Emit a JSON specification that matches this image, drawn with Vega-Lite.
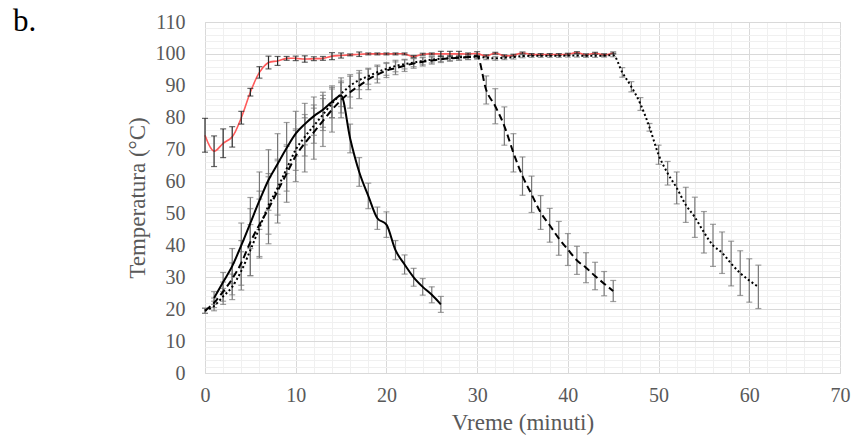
{
"$schema": "https://vega.github.io/schema/vega-lite/v6.json",
"width": 635, "height": 351,
"autosize": "none",
"padding": {"left": 205, "top": 22, "right": 17, "bottom": 70},
"background": "white",
"config": {"view": {"stroke": "#d9d9d9", "strokeWidth": 1}, "font": "Liberation Serif", "axis": {"titleColor": "#595959", "labelColor": "#595959", "labelFlush": false}},
"title": {"text": "b.", "anchor": "start", "frame": "group", "fontSize": 31, "font": "Liberation Serif", "fontWeight": "normal", "color": "black", "dx": -192, "offset": 0, "baseline": "alphabetic", "dy": 50},
"data": {"values": [
{"s":"red","x":0,"y":74.5,"e":5.3},{"s":"red","x":1,"y":69.5,"e":4.8},{"s":"red","x":2,"y":72,"e":4.5},{"s":"red","x":3,"y":74,"e":3.2},{"s":"red","x":4,"y":80,"e":2},{"s":"red","x":5,"y":88,"e":1.2},{"s":"red","x":6,"y":94.2,"e":1.8},{"s":"red","x":7,"y":97.3,"e":2},{"s":"red","x":8,"y":97.8,"e":1.4},{"s":"red","x":9,"y":98.6,"e":0.6},{"s":"red","x":10,"y":98.6,"e":0.7},{"s":"red","x":11,"y":98.4,"e":1},{"s":"red","x":12,"y":98.5,"e":0.6},{"s":"red","x":13,"y":98.6,"e":0.6},{"s":"red","x":14,"y":99.3,"e":1.1},{"s":"red","x":15,"y":99.5,"e":0.8},{"s":"red","x":16,"y":99.7,"e":0.3},{"s":"red","x":17,"y":99.9,"e":0.7},{"s":"red","x":18,"y":100,"e":0.3},{"s":"red","x":19,"y":100,"e":0.3},{"s":"red","x":20,"y":100,"e":0.3},{"s":"red","x":21,"y":100,"e":0.3},{"s":"red","x":22,"y":100,"e":0.3},{"s":"red","x":23,"y":99.2,"e":0.3},{"s":"red","x":24,"y":99.9,"e":0.3},{"s":"red","x":25,"y":100,"e":0.3},{"s":"red","x":26,"y":100,"e":0.8},{"s":"red","x":27,"y":100,"e":0.8},{"s":"red","x":28,"y":100,"e":0.8},{"s":"red","x":29,"y":100,"e":0.3},{"s":"red","x":30,"y":100.1,"e":0.6},{"s":"red","x":31,"y":99.4,"e":0.3},{"s":"red","x":32,"y":100.2,"e":0.3},{"s":"red","x":33,"y":99.4,"e":0.3},{"s":"red","x":34,"y":99.6,"e":0.3},{"s":"red","x":35,"y":100.3,"e":0.3},{"s":"red","x":36,"y":99.8,"e":0.3},{"s":"red","x":37,"y":99.8,"e":0.3},{"s":"red","x":38,"y":99.8,"e":0.3},{"s":"red","x":39,"y":99.8,"e":0.3},{"s":"red","x":40,"y":99.9,"e":0.3},{"s":"red","x":41,"y":100.4,"e":0.3},{"s":"red","x":42,"y":99.7,"e":0.3},{"s":"red","x":43,"y":100.2,"e":0.3},{"s":"red","x":44,"y":99.7,"e":0.3},{"s":"red","x":45,"y":100.3,"e":0.3},
{"s":"solid","x":1,"y":23.5,"e":2},{"s":"solid","x":2,"y":28.5,"e":3},{"s":"solid","x":3,"y":33.5,"e":5.5},{"s":"solid","x":4,"y":40,"e":7},{"s":"solid","x":5,"y":47,"e":8},{"s":"solid","x":6,"y":54,"e":9},{"s":"solid","x":7,"y":60.5,"e":9.5},{"s":"solid","x":8,"y":65.5,"e":9.5},{"s":"solid","x":9,"y":70.5,"e":8},{"s":"solid","x":10,"y":75,"e":7},{"s":"solid","x":11,"y":78,"e":6.5},{"s":"solid","x":12,"y":80.5,"e":6},{"s":"solid","x":13,"y":82.5,"e":5.5},{"s":"solid","x":14,"y":85,"e":5},{"s":"solid","x":15,"y":87,"e":5.5},{"s":"solid","x":16,"y":73.5,"e":4.5},{"s":"solid","x":17,"y":63,"e":4.5},{"s":"solid","x":18,"y":55.5,"e":4},{"s":"solid","x":19,"y":48.5,"e":3.5},{"s":"solid","x":20,"y":46.5,"e":4},{"s":"solid","x":21,"y":38.5,"e":3},{"s":"solid","x":22,"y":34,"e":3},{"s":"solid","x":23,"y":30,"e":2.8},{"s":"solid","x":24,"y":27,"e":2.6},{"s":"solid","x":25,"y":24.5,"e":2.5},{"s":"solid","x":26,"y":21.5,"e":2.5},
{"s":"dashed","x":0,"y":19.5,"e":0.8},{"s":"dashed","x":1,"y":22,"e":1.5},{"s":"dashed","x":2,"y":25.5,"e":3},{"s":"dashed","x":3,"y":29.5,"e":5},{"s":"dashed","x":4,"y":34.5,"e":7},{"s":"dashed","x":5,"y":41,"e":10.5},{"s":"dashed","x":6,"y":46.5,"e":10.5},{"s":"dashed","x":7,"y":51.5,"e":11},{"s":"dashed","x":8,"y":57,"e":10},{"s":"dashed","x":9,"y":62.5,"e":9},{"s":"dashed","x":10,"y":68,"e":8},{"s":"dashed","x":11,"y":72,"e":9},{"s":"dashed","x":12,"y":75.5,"e":8.5},{"s":"dashed","x":13,"y":79,"e":8},{"s":"dashed","x":14,"y":82.5,"e":7},{"s":"dashed","x":15,"y":85.5,"e":5.5},{"s":"dashed","x":16,"y":88,"e":5},{"s":"dashed","x":17,"y":90,"e":4},{"s":"dashed","x":18,"y":92,"e":3.2},{"s":"dashed","x":19,"y":93.5,"e":2.6},{"s":"dashed","x":20,"y":94.8,"e":2.2},{"s":"dashed","x":21,"y":95.5,"e":2},{"s":"dashed","x":22,"y":96.3,"e":1.8},{"s":"dashed","x":23,"y":97,"e":1.5},{"s":"dashed","x":24,"y":97.5,"e":1.3},{"s":"dashed","x":25,"y":97.9,"e":1.1},{"s":"dashed","x":26,"y":98.3,"e":1},{"s":"dashed","x":27,"y":98.6,"e":0.9},{"s":"dashed","x":28,"y":98.8,"e":0.8},{"s":"dashed","x":29,"y":99,"e":0.8},{"s":"dashed","x":30,"y":99.3,"e":0.8},{"s":"dashed","x":31,"y":88.7,"e":4.4},{"s":"dashed","x":32,"y":83.6,"e":5.5},{"s":"dashed","x":33,"y":77.4,"e":6},{"s":"dashed","x":34,"y":69,"e":6},{"s":"dashed","x":35,"y":61.7,"e":6},{"s":"dashed","x":36,"y":56,"e":5.7},{"s":"dashed","x":37,"y":50.3,"e":5.3},{"s":"dashed","x":38,"y":46.3,"e":5.3},{"s":"dashed","x":39,"y":42.2,"e":5.3},{"s":"dashed","x":40,"y":38.7,"e":5},{"s":"dashed","x":41,"y":35.3,"e":4.4},{"s":"dashed","x":42,"y":33,"e":4.7},{"s":"dashed","x":43,"y":30.4,"e":4.3},{"s":"dashed","x":44,"y":28,"e":3.8},{"s":"dashed","x":45,"y":25.7,"e":3.3},
{"s":"dotted","x":0,"y":19.5,"e":0.8},{"s":"dotted","x":1,"y":21,"e":1.5},{"s":"dotted","x":2,"y":24,"e":2.5},{"s":"dotted","x":3,"y":27,"e":4},{"s":"dotted","x":4,"y":32,"e":6},{"s":"dotted","x":5,"y":38.5,"e":8},{"s":"dotted","x":6,"y":45.5,"e":9},{"s":"dotted","x":7,"y":52.5,"e":9},{"s":"dotted","x":8,"y":58,"e":8.5},{"s":"dotted","x":9,"y":64,"e":7},{"s":"dotted","x":10,"y":70,"e":6.5},{"s":"dotted","x":11,"y":74,"e":6},{"s":"dotted","x":12,"y":77.5,"e":5.5},{"s":"dotted","x":13,"y":81,"e":5},{"s":"dotted","x":14,"y":84.5,"e":4.5},{"s":"dotted","x":15,"y":87.5,"e":4},{"s":"dotted","x":16,"y":90,"e":3.5},{"s":"dotted","x":17,"y":91.8,"e":3},{"s":"dotted","x":18,"y":93,"e":2.5},{"s":"dotted","x":19,"y":94.3,"e":2.2},{"s":"dotted","x":20,"y":95.3,"e":2},{"s":"dotted","x":21,"y":96.2,"e":1.8},{"s":"dotted","x":22,"y":96.8,"e":1.5},{"s":"dotted","x":23,"y":97.3,"e":1.3},{"s":"dotted","x":24,"y":97.8,"e":1.2},{"s":"dotted","x":25,"y":98.2,"e":1},{"s":"dotted","x":26,"y":98.5,"e":0.9},{"s":"dotted","x":27,"y":98.7,"e":0.8},{"s":"dotted","x":28,"y":98.9,"e":0.8},{"s":"dotted","x":29,"y":99,"e":0.7},{"s":"dotted","x":30,"y":99.1,"e":0.7},{"s":"dotted","x":31,"y":98.8,"e":0.6},{"s":"dotted","x":32,"y":98.6,"e":0.6},{"s":"dotted","x":33,"y":98.8,"e":0.6},{"s":"dotted","x":34,"y":99,"e":0.6},{"s":"dotted","x":35,"y":99.3,"e":0.5},{"s":"dotted","x":36,"y":99.4,"e":0.5},{"s":"dotted","x":37,"y":99.4,"e":0.5},{"s":"dotted","x":38,"y":99.4,"e":0.5},{"s":"dotted","x":39,"y":99.4,"e":0.5},{"s":"dotted","x":40,"y":99.5,"e":0.5},{"s":"dotted","x":41,"y":99.5,"e":0.5},{"s":"dotted","x":42,"y":99.4,"e":0.5},{"s":"dotted","x":43,"y":99.4,"e":0.5},{"s":"dotted","x":44,"y":99.5,"e":0.5},{"s":"dotted","x":45,"y":99.6,"e":0.5},{"s":"dotted","x":46,"y":94.2,"e":1.5},{"s":"dotted","x":47,"y":89.7,"e":1.6},{"s":"dotted","x":48,"y":84.3,"e":2},{"s":"dotted","x":49,"y":77,"e":1.2},{"s":"dotted","x":50,"y":68.4,"e":3},{"s":"dotted","x":51,"y":62.6,"e":3.7},{"s":"dotted","x":52,"y":58,"e":5},{"s":"dotted","x":53,"y":52.7,"e":5.5},{"s":"dotted","x":54,"y":48.8,"e":6.3},{"s":"dotted","x":55,"y":44.1,"e":6.5},{"s":"dotted","x":56,"y":40,"e":6.6},{"s":"dotted","x":57,"y":37.7,"e":6.5},{"s":"dotted","x":58,"y":34.3,"e":7},{"s":"dotted","x":59,"y":31.3,"e":7},{"s":"dotted","x":60,"y":29,"e":6.8},{"s":"dotted","x":61,"y":27,"e":6.8}
]},
"layer": [
{"mark": {"type": "point", "opacity": 0},
 "encoding": {
  "x": {"field": "x", "type": "quantitative", "scale": {"domain": [0, 70], "nice": false},
        "axis": {"orient": "bottom", "values": [2,4,6,8,12,14,16,18,22,24,26,28,32,34,36,38,42,44,46,48,52,54,56,58,62,64,66,68], "grid": true, "gridColor": "#f0f0f0", "gridWidth": 1, "labels": false, "ticks": false, "domain": false, "title": null}},
  "y": {"field": "y", "type": "quantitative", "scale": {"domain": [0, 110], "nice": false},
        "axis": {"orient": "left", "values": [2,4,6,8,12,14,16,18,22,24,26,28,32,34,36,38,42,44,46,48,52,54,56,58,62,64,66,68,72,74,76,78,82,84,86,88,92,94,96,98,102,104,106,108], "grid": true, "gridColor": "#f0f0f0", "gridWidth": 1, "labels": false, "ticks": false, "domain": false, "title": null}}
 }},
{"mark": {"type": "point", "opacity": 0},
 "encoding": {
  "x": {"field": "x", "type": "quantitative", "scale": {"domain": [0, 70], "nice": false},
        "axis": {"orient": "bottom", "values": [0,10,20,30,40,50,60,70], "grid": true, "gridColor": "#d9d9d9", "gridWidth": 1, "ticks": false, "domain": false, "labelFlush": false, "labelFont": "Liberation Serif", "labelFontSize": 20, "labelColor": "#595959", "labelPadding": 12, "title": "Vreme (minuti)", "titleFont": "Liberation Serif", "titleFontSize": 23, "titleFontWeight": "normal", "titleColor": "#595959", "titlePadding": 6}},
  "y": {"field": "y", "type": "quantitative", "scale": {"domain": [0, 110], "nice": false},
        "axis": {"orient": "left", "values": [0,10,20,30,40,50,60,70,80,90,100,110], "grid": true, "gridColor": "#d9d9d9", "gridWidth": 1, "ticks": false, "domain": false, "labelFlush": false, "labelFont": "Liberation Serif", "labelFontSize": 20, "labelColor": "#595959", "labelPadding": 20, "title": "Temperatura (°C)", "titleFont": "Liberation Serif", "titleFontSize": 23, "titleFontWeight": "normal", "titleColor": "#595959", "titlePadding": 6}}
 }},
{"transform": [{"filter": "datum.s != 'red'"}],
 "mark": {"type": "errorbar", "ticks": {"size": 6}, "color": "#777777", "thickness": 1.2},
 "encoding": {
  "x": {"field": "x", "type": "quantitative", "axis": null},
  "y": {"field": "y", "type": "quantitative", "axis": null},
  "yError": {"field": "e"}
 }},
{"transform": [{"filter": "datum.s == 'red'"}],
 "mark": {"type": "line", "color": "#ff5a5a", "strokeWidth": 1.6, "interpolate": "catmull-rom"},
 "encoding": {
  "x": {"field": "x", "type": "quantitative", "axis": null},
  "y": {"field": "y", "type": "quantitative", "axis": null}
 }},
{"transform": [{"filter": "datum.s == 'red'"}],
 "mark": {"type": "errorbar", "ticks": {"size": 6}, "color": "#262626", "thickness": 1.2},
 "encoding": {
  "x": {"field": "x", "type": "quantitative", "axis": null},
  "y": {"field": "y", "type": "quantitative", "axis": null},
  "yError": {"field": "e"}
 }},
{"transform": [{"filter": "datum.s == 'solid'"}],
 "mark": {"type": "line", "color": "#000000", "strokeWidth": 2, "interpolate": "monotone"},
 "encoding": {
  "x": {"field": "x", "type": "quantitative", "axis": null},
  "y": {"field": "y", "type": "quantitative", "axis": null}
 }},
{"transform": [{"filter": "datum.s == 'dashed'"}],
 "mark": {"type": "line", "color": "#000000", "strokeWidth": 2, "strokeDash": [7, 4], "interpolate": "monotone"},
 "encoding": {
  "x": {"field": "x", "type": "quantitative", "axis": null},
  "y": {"field": "y", "type": "quantitative", "axis": null}
 }},
{"transform": [{"filter": "datum.s == 'dotted'"}],
 "mark": {"type": "line", "color": "#000000", "strokeWidth": 2, "strokeDash": [2, 2.5], "interpolate": "monotone"},
 "encoding": {
  "x": {"field": "x", "type": "quantitative", "axis": null},
  "y": {"field": "y", "type": "quantitative", "axis": null}
 }}
],
"resolve": {"axis": {"x": "independent", "y": "independent"}}
}
